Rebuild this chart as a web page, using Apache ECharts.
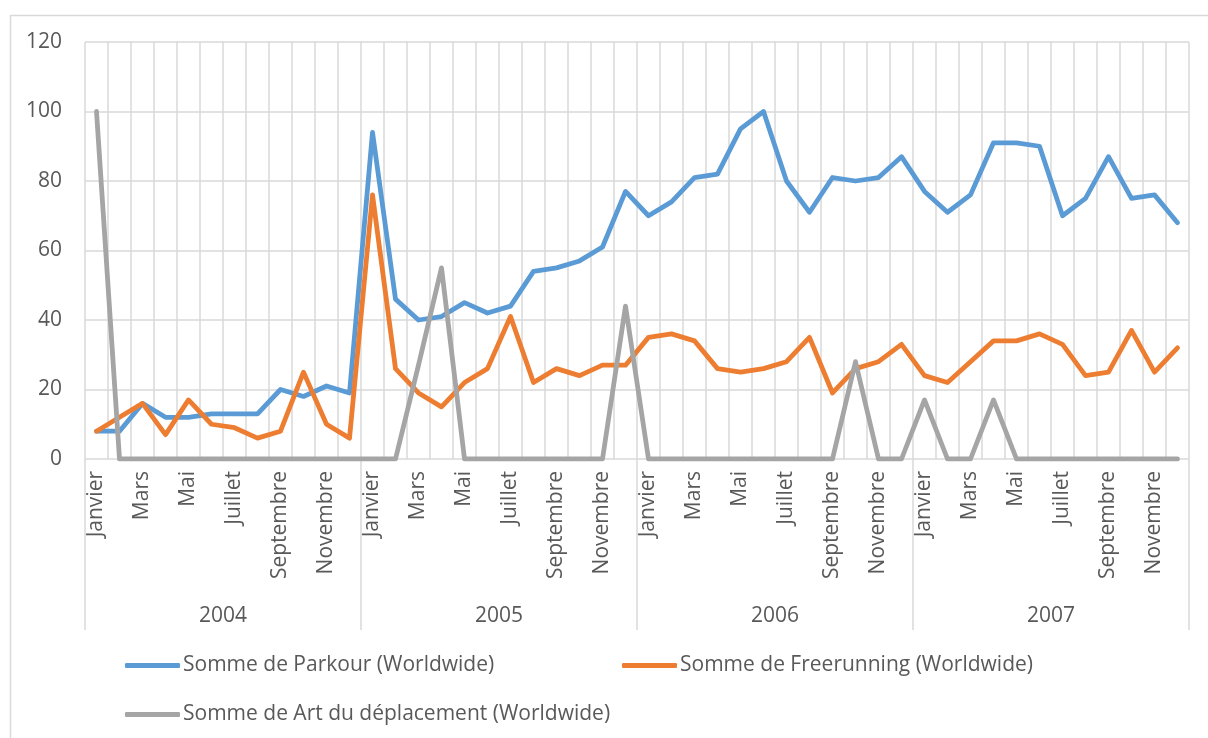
<!DOCTYPE html>
<html>
<head>
<meta charset="utf-8">
<script src="https://cdn.jsdelivr.net/npm/echarts@6/dist/echarts.min.js"></script>
<style>
html,body{margin:0;padding:0;background:#fff;}
#chart{width:1208px;height:738px;}
</style>
</head>
<body>
<div id="chart"></div>
<script>
var monthNames = ['Janvier','Février','Mars','Avril','Mai','Juin','Juillet','Août','Septembre','Octobre','Novembre','Décembre'];
var years = ['2004','2005','2006','2007'];
var yTicks = [0, 20, 40, 60, 80, 100, 120];

var parkour = [
  8, 8, 16, 12, 12, 13, 13, 13, 20, 18, 21, 19,
  94, 46, 40, 41, 45, 42, 44, 54, 55, 57, 61, 77,
  70, 74, 81, 82, 95, 100, 80, 71, 81, 80, 81, 87,
  77, 71, 76, 91, 91, 90, 70, 75, 87, 75, 76, 68
];
var freerunning = [
  8, 12, 16, 7, 17, 10, 9, 6, 8, 25, 10, 6,
  76, 26, 19, 15, 22, 26, 41, 22, 26, 24, 27, 27,
  35, 36, 34, 26, 25, 26, 28, 35, 19, 26, 28, 33,
  24, 22, 28, 34, 34, 36, 33, 24, 25, 37, 25, 32
];
var artDeplacement = [
  100, 0, 0, 0, 0, 0, 0, 0, 0, 0, 0, 0,
  0, 0, 27, 55, 0, 0, 0, 0, 0, 0, 0, 44,
  0, 0, 0, 0, 0, 0, 0, 0, 0, 28, 0, 0,
  17, 0, 0, 17, 0, 0, 0, 0, 0, 0, 0, 0
];
var seriesNames = ['Somme de Parkour (Worldwide)', 'Somme de Freerunning (Worldwide)', 'Somme de Art du déplacement (Worldwide)'];
var colors = ['#5B9BD5', '#ED7D31', '#A5A5A5'];

var categories = [];
years.forEach(function (y) { monthNames.forEach(function (m) { categories.push(m + ' ' + y); }); });

var FONT = 'Open Sans';
var FS = 21;
var TXT = '#595959';
var GRID = '#d9d9d9';

var chart = echarts.init(document.getElementById('chart'));
function legendAt(name, left, top) {
  return {
    data: [name], left: left, top: top, orient: 'horizontal',
    icon: 'roundRect', itemWidth: 55, itemHeight: 5, itemGap: 0,
    padding: 0,
    textStyle: { color: TXT, fontFamily: FONT, fontSize: FS, padding: [0, 0, 0, -2] },
    selectedMode: false
  };
}
var series = [parkour, freerunning, artDeplacement].map(function (d, i) {
  return {
    name: seriesNames[i], type: 'line', data: d, xAxisIndex: 0, yAxisIndex: 0,
    showSymbol: false, symbol: 'none', animation: false,
    itemStyle: { color: colors[i] },
    lineStyle: { color: colors[i], width: 4.8, cap: 'round', join: 'round' }
  };
});

chart.setOption({
  animation: false,
  backgroundColor: '#fff',
  graphic: [{
    type: 'rect', left: 8, top: 13, shape: { x: 0, y: 0, width: 1300, height: 800 },
    style: { fill: 'none', stroke: GRID, lineWidth: 1.5 }, silent: true, z: -10
  }],
  grid: { left: 85, right: 19, top: 42, bottom: 279, containLabel: false },
  legend: [
    legendAt(seriesNames[0], 125, 655),
    legendAt(seriesNames[1], 622, 655),
    legendAt(seriesNames[2], 125, 704)
  ],
  xAxis: [{
    type: 'category', data: categories, boundaryGap: true, position: 'bottom',
    axisLine: { show: false },
    axisTick: { show: false },
    axisLabel: {
      interval: 1, rotate: 90, margin: 12, color: TXT, fontFamily: FONT, fontSize: FS,
      formatter: function (v) { return v.split(' ')[0]; }
    },
    splitLine: { show: true, interval: 0, lineStyle: { color: GRID, width: 1.5 } }
  }, {
    type: 'category', data: years, boundaryGap: true, position: 'bottom',
    axisLine: { show: false },
    axisTick: { show: true, length: 171, lineStyle: { color: GRID, width: 1.5 } },
    axisLabel: { margin: 147, color: TXT, fontFamily: FONT, fontSize: FS },
    splitLine: { show: false }
  }],
  yAxis: [{
    type: 'value', min: 0, max: 120, interval: 20,
    axisLine: { show: false }, axisTick: { show: false },
    axisLabel: { margin: 23, color: TXT, fontFamily: FONT, fontSize: FS,
      formatter: function (v) { return yTicks.indexOf(v) >= 0 ? String(v) : ''; } },
    splitLine: { show: true, lineStyle: { color: GRID, width: 1.5 } }
  }],
  series: series
});
</script>
</body>
</html>
